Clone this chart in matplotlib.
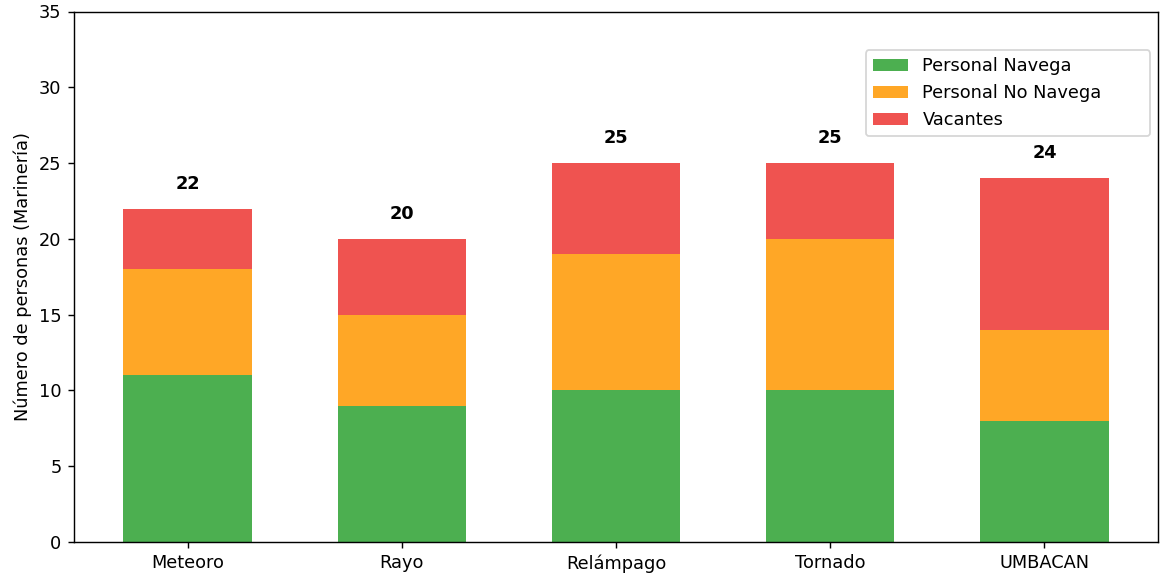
import matplotlib
matplotlib.use("Agg")
import matplotlib.pyplot as plt
import numpy as np

# datos por unidad
unidades = ["Meteoro", "Rayo", "Relámpago", "Tornado", "UMBACAN"]
navega = [11, 9, 10, 10, 8]
no_navega = [7, 6, 9, 10, 6]
vacantes = [4, 5, 6, 5, 10]

colores = ["#4caf50", "#ffa726", "#ef5350"]

fig = plt.figure(figsize=(1160 / 128, 574 / 128), dpi=128)
ax = fig.add_axes([74 / 1160, 32 / 574, 1084 / 1160, 530.5 / 574])

x = np.arange(len(unidades))
ancho = 0.6
nav = np.array(navega)
nonav = np.array(no_navega)
vac = np.array(vacantes)

ax.bar(x, nav, ancho, color=colores[0], label="Personal Navega")
ax.bar(x, nonav, ancho, bottom=nav, color=colores[1], label="Personal No Navega")
ax.bar(x, vac, ancho, bottom=nav + nonav, color=colores[2], label="Vacantes")

totales = nav + nonav + vac
for xi, t in zip(x, totales):
    ax.text(xi, t + 1.05, str(t), ha="center", va="bottom", fontweight="bold", fontsize=10)

ax.set_xticks(x)
ax.set_xticklabels(unidades)
ax.set_ylim(0, 35)
ax.set_ylabel("Número de personas (Marinería)")
ax.legend(loc="upper right", bbox_to_anchor=(0.722, 0.0, 0.279, 0.944), mode="expand")

fig.savefig("out.png", dpi=128)
